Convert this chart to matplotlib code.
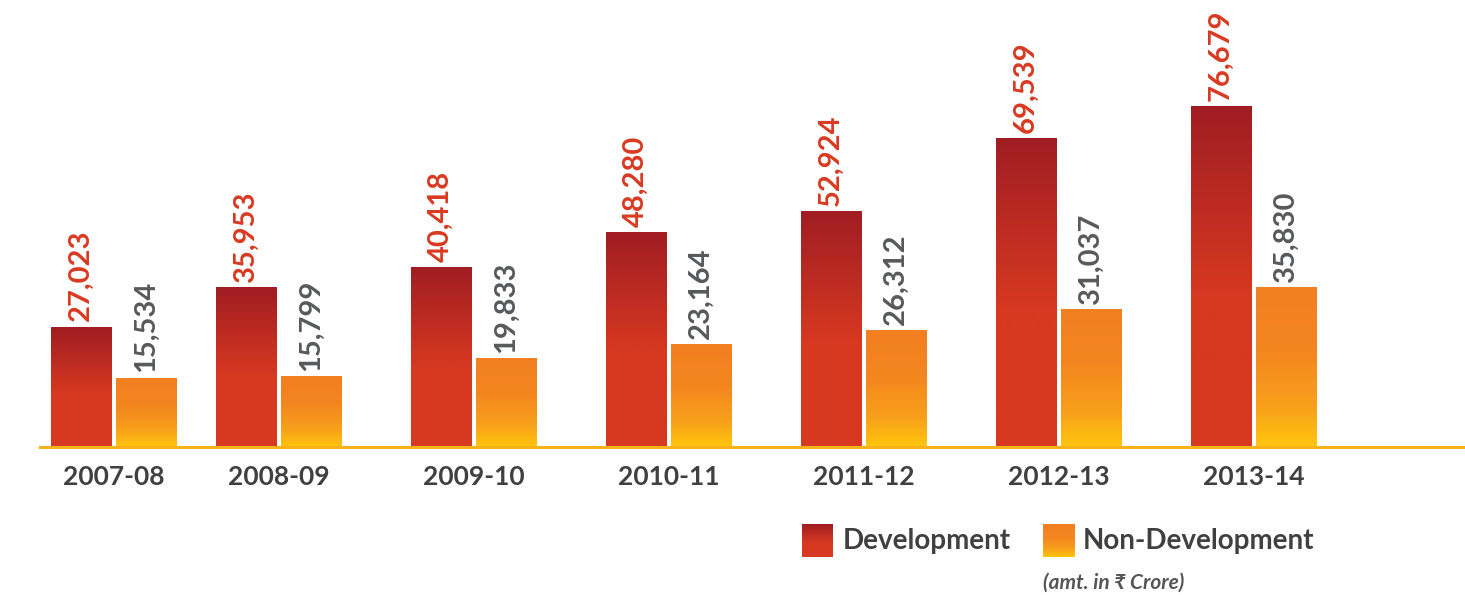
import numpy as np
import matplotlib.pyplot as plt
from matplotlib.colors import LinearSegmentedColormap

years = ['2007-08', '2008-09', '2009-10', '2010-11', '2011-12', '2012-13', '2013-14']
development = [27023, 35953, 40418, 48280, 52924, 69539, 76679]
non_development = [15534, 15799, 19833, 23164, 26312, 31037, 35830]
# group centres (first two groups sit a bit closer together)
group_pos = [0, 0.846, 1.846, 2.846, 3.846, 4.846, 5.846]

plt.rcParams['font.family'] = ['Lato', 'DejaVu Sans']

# colour ramps, bottom -> top
dev_cmap = LinearSegmentedColormap.from_list(
    'dev', [(0, '#d83a20'), (0.45, '#d63820'), (1, '#a01d23')])
nondev_cmap = LinearSegmentedColormap.from_list(
    'nondev', [(0, '#ffc60c'), (0.25, '#f8a01b'), (0.6, '#f4861f'), (1, '#f27f21')])
grad = np.linspace(0, 1, 256).reshape(-1, 1)

W, H = 1465, 595
fig = plt.figure(figsize=(W / 100, H / 100), dpi=100)
fig.patch.set_facecolor('white')

# main bar axes, bottom edge on the gold baseline
ax = fig.add_axes([40 / W, 148 / H, 1425 / W, 447 / H])
ax.axis('off')

bw = 0.3077
off = 0.1667
px_per_unit = 120 / 27023.0


def gradient_bar(x, h, cmap):
    ax.imshow(grad, cmap=cmap, origin='lower', aspect='auto',
              extent=[x - bw / 2, x + bw / 2, 0, h], interpolation='bilinear', zorder=2)


for i, yr in enumerate(years):
    xd = group_pos[i] - off
    xn = group_pos[i] + off
    gradient_bar(xd, development[i], dev_cmap)
    gradient_bar(xn, non_development[i], nondev_cmap)
    ax.annotate(f'{development[i]:,}', (xd, development[i]), xytext=(0, 4),
                textcoords='offset points', rotation=90, ha='center', va='bottom',
                fontsize=21, fontweight='bold', color='#d83a20')
    ax.annotate(f'{non_development[i]:,}', (xn, non_development[i]), xytext=(0, 4),
                textcoords='offset points', rotation=90, ha='center', va='bottom',
                fontsize=21, fontweight='bold', color='#58595b')
    ax.annotate(yr, (group_pos[i], 0), xytext=(0, -21.5), textcoords='offset points',
                ha='center', va='center', fontsize=19, fontweight='bold', color='#404040')

x_left = -73.5 / 195
ax.set_xlim(x_left, x_left + 1425 / 195)
ax.set_ylim(0, 447 / px_per_unit)
ax.axhline(0, color='#f6b21a', lw=2.2, zorder=3, clip_on=False)

# legend drawn in pixel coordinates on an overlay
lg = fig.add_axes([0, 0, 1, 1])
lg.axis('off')
lg.imshow(grad, cmap=dev_cmap, origin='lower', aspect='auto',
          extent=[802, 833, 557, 524], interpolation='bilinear')
lg.imshow(grad, cmap=nondev_cmap, origin='lower', aspect='auto',
          extent=[1043, 1075, 557, 524], interpolation='bilinear')
lg.set_xlim(0, W)
lg.set_ylim(H, 0)
lg.text(843, 541, 'Development', ha='left', va='center', fontsize=20,
        fontweight='bold', color='#404040')
lg.text(1083, 541, 'Non-Development', ha='left', va='center', fontsize=20,
        fontweight='bold', color='#404040')
lg.text(1043, 583, '(amt. in ₹ Crore)', ha='left', va='center', fontsize=15,
        fontweight='bold', style='italic', color='#555555')

fig.savefig('out.png', dpi=100, facecolor='white')
